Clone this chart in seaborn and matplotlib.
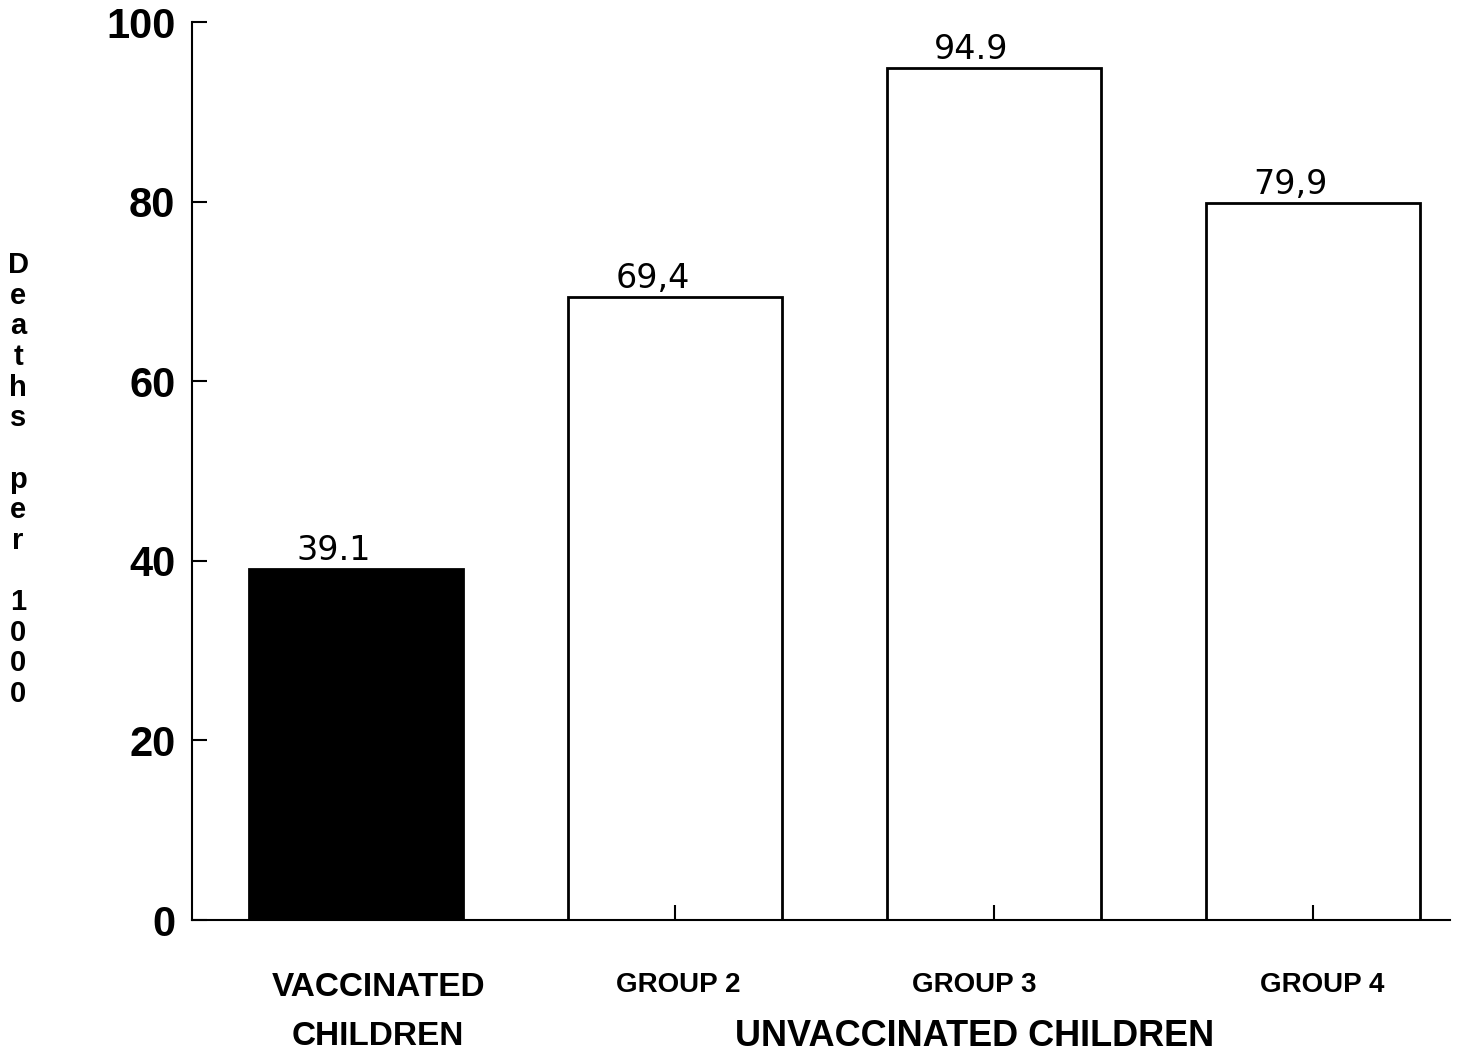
import matplotlib
matplotlib.use("Agg")
import matplotlib.pyplot as plt
import matplotlib.transforms as mtransforms
import seaborn as sns
import pandas as pd

# data
groups = ["VACCINATED", "GROUP 2", "GROUP 3", "GROUP 4"]
deaths_per_1000 = [39.1, 69.4, 94.9, 79.9]
value_labels = ["39.1", "69,4", "94.9", "79,9"]
bar_colors = ["black", "white", "white", "white"]
y_ticks = [0, 20, 40, 60, 80, 100]

sns.set_theme(style="ticks")
plt.rcParams["font.family"] = ["Liberation Sans", "DejaVu Sans"]
plt.rcParams["text.color"] = "black"

df = pd.DataFrame({"group": groups, "deaths": deaths_per_1000})

fig = plt.figure(figsize=(14.59, 10.54), dpi=100)
ax = fig.add_axes([0.1316, 0.1271, 0.8622, 0.8519])

sns.barplot(data=df, x="group", y="deaths", hue="group", palette=bar_colors,
            edgecolor="black", linewidth=2, width=0.67, legend=False, ax=ax)

ax.set_axisbelow(False)
ax.set_ylim(0, 100)
ax.set_xlim(-0.514, 3.43)
ax.set_yticks(y_ticks)
ax.set_yticklabels([str(t) for t in y_ticks], fontsize=30, fontweight="bold",
                   color="black")
ax.set_xticks(range(len(groups)))
ax.set_xticklabels([])
ax.set_xlabel("")
ax.set_ylabel("")
ax.tick_params(axis="y", direction="in", length=11, width=1.5, pad=12, colors="black")
ax.tick_params(axis="x", direction="in", length=11, width=1.5, colors="black")
for side in ["top", "right"]:
    ax.spines[side].set_visible(False)
for side in ["left", "bottom"]:
    ax.spines[side].set_linewidth(1.5)
    ax.spines[side].set_color("black")

# value labels above each bar
for i, (v, lab) in enumerate(zip(deaths_per_1000, value_labels)):
    ax.text(i - 0.07, v + 0.2, lab, ha="center", va="bottom", fontsize=24,
            family="DejaVu Sans", color="black")

# category labels under the axis
trans = mtransforms.blended_transform_factory(ax.transData, ax.transAxes)
ax.text(0.07, -0.075, "VACCINATED", transform=trans, ha="center", va="center",
        fontsize=24, fontweight="bold", color="black")
ax.text(0.07, -0.13, "CHILDREN", transform=trans, ha="center", va="center",
        fontsize=24, fontweight="bold", color="black")
for i, g in enumerate(groups[1:], start=1):
    ax.text(i + (0.01 if i == 1 else -0.06 if i == 2 else 0.03), -0.072, g,
            transform=trans, ha="center", va="center", fontsize=20,
            fontweight="bold", color="black")
ax.text(1.94, -0.13, "UNVACCINATED CHILDREN", transform=trans, ha="center",
        va="center", fontsize=26, fontweight="bold", color="black")

# stacked vertical y label
fig.text(18 / 1459, 0.545, "\n".join("Deaths per 1000"), ha="center", va="center",
         fontsize=21, fontweight="bold", linespacing=1.12, color="black")

fig.savefig("out.png", dpi=100, facecolor="white")
